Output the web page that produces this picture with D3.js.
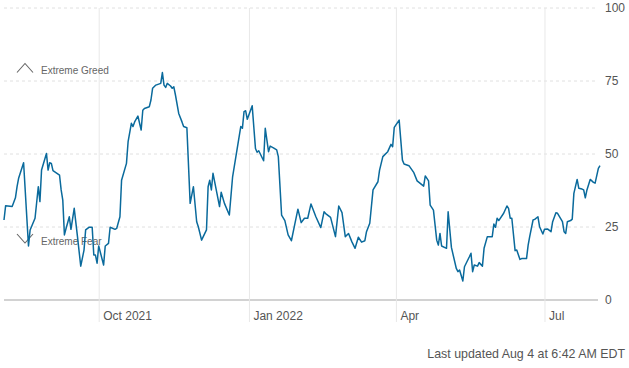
<!DOCTYPE html>
<html>
<head>
<meta charset="utf-8">
<script src="https://cdn.jsdelivr.net/npm/d3@7"></script>
<style>
  html, body { margin: 0; padding: 0; background: #fff; }
  svg { display: block; font-family: "Liberation Sans", Arial, sans-serif; }
</style>
</head>
<body>
<svg id="chart" width="629" height="368"></svg>
<script>
// ---- data ----
const dates = [
 "2021-08-04","2021-08-05","2021-08-09","2021-08-11","2021-08-12","2021-08-13","2021-08-16","2021-08-19","2021-08-20","2021-08-23",
 "2021-08-25","2021-08-26","2021-08-27","2021-08-30","2021-08-31","2021-09-01","2021-09-02","2021-09-03","2021-09-07","2021-09-08",
 "2021-09-09","2021-09-10","2021-09-11","2021-09-13","2021-09-14","2021-09-16","2021-09-18","2021-09-20","2021-09-22","2021-09-23",
 "2021-09-25","2021-09-27","2021-09-28","2021-09-29","2021-09-30","2021-10-01","2021-10-04","2021-10-05","2021-10-07","2021-10-08",
 "2021-10-11","2021-10-12","2021-10-14","2021-10-15","2021-10-18","2021-10-19","2021-10-21","2021-10-22","2021-10-23","2021-10-25",
 "2021-10-27","2021-10-28","2021-10-29","2021-11-01","2021-11-02","2021-11-03","2021-11-05","2021-11-08","2021-11-09","2021-11-10",
 "2021-11-11","2021-11-12","2021-11-14","2021-11-15","2021-11-16","2021-11-17","2021-11-19","2021-11-21","2021-11-22","2021-11-24",
 "2021-11-26","2021-11-28","2021-11-30","2021-12-01","2021-12-03","2021-12-06","2021-12-07","2021-12-08","2021-12-09","2021-12-10",
 "2021-12-14","2021-12-15","2021-12-17","2021-12-20","2021-12-22","2021-12-27","2021-12-28","2021-12-29","2021-12-30","2021-12-31",
 "2022-01-03","2022-01-05","2022-01-06","2022-01-07","2022-01-10","2022-01-11","2022-01-13","2022-01-14","2022-01-16","2022-01-18",
 "2022-01-19","2022-01-21","2022-01-23","2022-01-25","2022-01-27","2022-01-29","2022-01-31","2022-02-02","2022-02-04","2022-02-06",
 "2022-02-08","2022-02-11","2022-02-14","2022-02-16","2022-02-17","2022-02-20","2022-02-23","2022-02-25","2022-02-27","2022-03-01",
 "2022-03-03","2022-03-05","2022-03-07","2022-03-09","2022-03-11","2022-03-13","2022-03-14","2022-03-16","2022-03-18","2022-03-21",
 "2022-03-22","2022-03-24","2022-03-27","2022-03-29","2022-03-30","2022-03-31","2022-04-03","2022-04-05","2022-04-06","2022-04-09",
 "2022-04-12","2022-04-14","2022-04-18","2022-04-19","2022-04-21","2022-04-22","2022-04-24","2022-04-26","2022-04-27","2022-04-28",
 "2022-04-29","2022-05-02","2022-05-03","2022-05-05","2022-05-08","2022-05-09","2022-05-10","2022-05-12","2022-05-13","2022-05-16",
 "2022-05-17","2022-05-18","2022-05-19","2022-05-21","2022-05-22","2022-05-24","2022-05-25","2022-05-27","2022-05-30","2022-05-31",
 "2022-06-01","2022-06-02","2022-06-03","2022-06-06","2022-06-08","2022-06-09","2022-06-10","2022-06-11","2022-06-13","2022-06-14",
 "2022-06-16","2022-06-17","2022-06-20","2022-06-21","2022-06-22","2022-06-24","2022-06-25","2022-06-27","2022-06-28","2022-06-30",
 "2022-07-01","2022-07-03","2022-07-05","2022-07-06","2022-07-08","2022-07-09","2022-07-12","2022-07-13","2022-07-14","2022-07-15",
 "2022-07-17","2022-07-18","2022-07-19","2022-07-21","2022-07-22","2022-07-24","2022-07-25","2022-07-26","2022-07-27","2022-07-29",
 "2022-07-31","2022-08-01","2022-08-03","2022-08-04"
];
const values = [
 27.4,32.3,32.0,35.0,38.8,41.8,47.0,18.5,24.0,28.0,
 38.8,33.7,44.5,50.2,44.5,47.0,46.8,44.3,42.8,37.7,
 34.2,22.3,24.5,28.5,24.2,31.4,21.7,11.6,17.1,24.0,
 24.9,24.9,15.4,15.4,12.6,18.5,12.0,18.5,19.4,24.9,
 24.2,24.5,28.5,41.0,46.8,54.2,60.5,59.4,61.0,63.0,
 58.2,65.0,65.6,66.2,68.5,72.5,73.6,74.2,77.9,73.6,
 72.8,74.2,73.3,72.5,73.0,70.2,63.9,61.0,59.4,59.0,
 33.1,38.8,26.8,25.1,20.5,24.0,38.8,41.0,37.7,43.4,
 32.0,36.9,33.1,29.1,42.2,59.4,58.8,64.5,64.8,61.9,
 66.5,51.9,50.6,51.1,47.7,58.8,50.8,52.7,52.1,51.4,
 49.1,29.1,27.2,22.3,20.3,25.7,31.1,26.5,28.0,28.0,
 32.9,28.5,24.8,30.2,29.6,28.3,21.7,32.2,29.9,21.7,
 22.8,20.0,17.7,21.5,19.8,20.3,23.4,26.3,37.7,40.5,
 44.5,49.1,50.8,53.3,52.5,59.1,61.6,47.9,46.6,46.0,
 43.6,40.8,39.0,42.5,40.8,32.5,30.8,20.5,18.8,22.8,
 18.5,17.7,30.2,18.0,10.8,9.7,10.3,6.5,11.4,14.8,
 16.0,9.7,12.0,11.6,12.8,11.6,17.7,21.7,21.7,26.0,
 24.9,28.0,27.2,29.7,32.2,31.4,28.0,28.0,16.9,17.1,
 13.9,14.2,14.2,18.8,21.9,27.4,27.6,28.5,25.1,22.6,
 24.2,24.3,23.4,26.8,29.9,29.7,26.8,23.4,22.8,26.8,
 27.2,27.7,36.5,41.3,38.3,38.0,37.7,35.0,37.7,41.3,
 40.3,40.0,45.1,46.0
];
const xTickDates = ["2021-10-01","2022-01-01","2022-04-01","2022-07-01"];
const xTickLabels = ["Oct 2021","Jan 2022","Apr","Jul"];
const yTicks = [0,25,50,75,100];
const zoneLabels = ["Extreme Greed","Extreme Fear"];
const footnote = "Last updated Aug 4 at 6:42 AM EDT";

// ---- chart ----
const parse = d3.timeParse("%Y-%m-%d");
const data = dates.map((d, i) => ({date: parse(d), value: values[i]}));

const svg = d3.select("#chart");
const x = d3.scaleTime()
  .domain([parse("2021-08-04"), parse("2022-08-04")])
  .range([4, 600]);
const y = d3.scaleLinear().domain([0, 100]).range([300, 8]);
const gridRight = 598;

// horizontal dashed gridlines
svg.append("g").selectAll("line")
  .data(yTicks.filter(v => v > 0))
  .join("line")
  .attr("x1", 4).attr("x2", gridRight)
  .attr("y1", d => y(d)).attr("y2", d => y(d))
  .attr("stroke", "#e0e0e0")
  .attr("stroke-width", 1)
  .attr("stroke-dasharray", "3,3");

// baseline
svg.append("line")
  .attr("x1", 4).attr("x2", gridRight)
  .attr("y1", y(0)).attr("y2", y(0))
  .attr("stroke", "#d2d2d2").attr("stroke-width", 2);

// x axis (vertical gridlines + labels)
const xAxis = d3.axisBottom(x)
  .tickValues(xTickDates.map(parse))
  .tickFormat((d, i) => xTickLabels[i])
  .tickSize(314).tickSizeOuter(0);
const gx = svg.append("g").attr("transform", "translate(0,8)").call(xAxis);
gx.select(".domain").remove();
gx.selectAll(".tick line").attr("stroke", "#e8e8e8").attr("stroke-width", 1);
gx.selectAll(".tick text")
  .attr("text-anchor", "start")
  .attr("x", 4).attr("y", 303.5)
  .attr("fill", "#555")
  .style("font-size", "12px")
  .style("font-family", "'Liberation Sans', Arial, sans-serif");

// y axis labels on right
const yAxis = d3.axisRight(y).tickValues(yTicks).tickSize(0).tickPadding(7);
const gy = svg.append("g").attr("transform", `translate(${gridRight},0)`).call(yAxis);
gy.select(".domain").remove();
gy.selectAll(".tick text")
  .attr("fill", "#555")
  .style("font-size", "12px")
  .style("font-family", "'Liberation Sans', Arial, sans-serif");

// zone annotations
const ann = svg.append("g").attr("fill", "none").attr("stroke", "#666").attr("stroke-width", 1.1);
ann.append("path").attr("d", "M17,72.5 L25,63.5 L33,72.5");
ann.append("path").attr("d", "M17,234 L25,243 L33,234");
svg.append("g").selectAll("text")
  .data([{t: zoneLabels[0], y: 73.5}, {t: zoneLabels[1], y: 244.5}])
  .join("text")
  .attr("x", 41).attr("y", d => d.y)
  .attr("fill", "#666")
  .style("font-size", "10px")
  .text(d => d.t);

// line
const line = d3.line().x(d => x(d.date)).y(d => y(d.value));
svg.append("path")
  .datum(data)
  .attr("fill", "none")
  .attr("stroke", "#0a6a9c")
  .attr("stroke-width", 1.5)
  .attr("stroke-linejoin", "round")
  .attr("d", line);

// footnote
svg.append("text")
  .attr("x", 625).attr("y", 358)
  .attr("text-anchor", "end")
  .attr("fill", "#555")
  .style("font-size", "12.4px")
  .text(footnote);
</script>
</body>
</html>
